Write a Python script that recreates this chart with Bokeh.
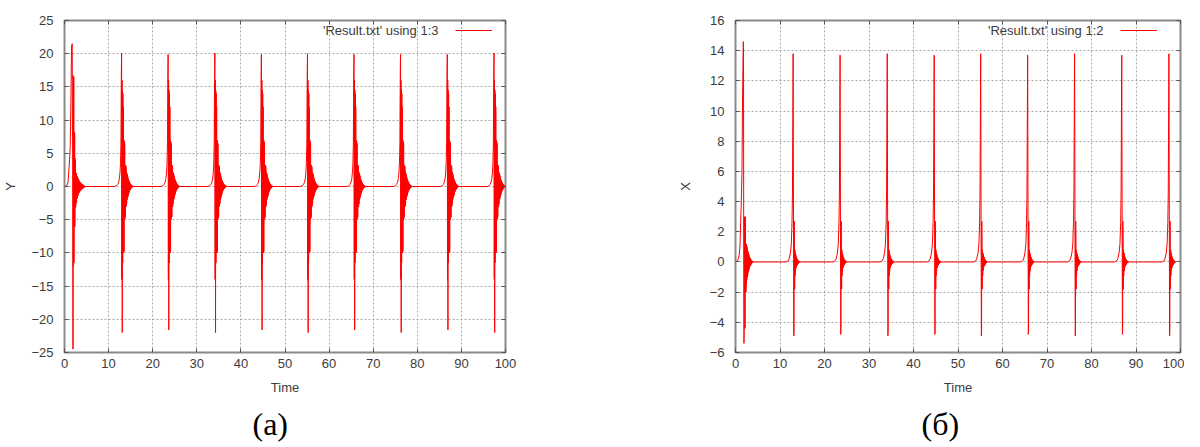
import numpy as np
from bokeh.plotting import figure
from bokeh.models import (ColumnDataSource, LinearAxis, Label, Legend, LegendItem,
                          Range1d, SingleIntervalTicker, Title, CustomJSTickFormatter)
from bokeh.layouts import row
from bokeh.embed import file_html
from bokeh.resources import INLINE

# ---------------- data ----------------
STEP = 0.05  # sampling step of the ringing part after each spike

# peak times of the spikes
SPIKE_T = [1.75, 12.95, 23.5, 34.1, 44.65, 55.1, 65.65, 76.2, 86.8, 97.4]

# ---- panel (a): Y (column 3) ----
Y_PEAK = [21.5, 20.1, 19.9, 20.1, 19.9, 20.0, 19.9, 19.9, 19.9, 20.1]
Y_MIN = [-24.5, -22.0, -21.6, -22.0, -21.6, -22.0, -21.6, -22.0, -21.6, -22.0]
Y_RISE_DT = [-1.6, -1.2, -0.9, -0.7, -0.5, -0.35, -0.25, -0.15, -0.1, -0.05]
Y_RISE = [0.0, 0.1, 0.3, 0.6, 1.2, 2.2, 3.5, 6.5, 12.5, 17.6]
Y_POST_HEAD = [-14.0, 16.0]
Y_POST_TAIL = [14.5, -11.5, 14.0, -10.0, 12.0, -10.0, 7.0, -9.8, 6.8, -5.0, 6.5, -4.8,
               3.2, -4.6, 3.2, -3.0, 3.0, -3.0, 2.2, -2.6, 2.0, -2.0, 1.8, -1.8, 1.5,
               -1.5, 1.2, -1.3, 1.0, -1.0, 0.8, -0.8, 0.7, -0.6, 0.5, -0.5, 0.4, -0.4,
               0.3, -0.3, 0.25, -0.2, 0.2, -0.15, 0.1, -0.1, 0.1, -0.05, 0.05, 0.0]
# first (start-up) spike of Y
Y_FIRST_T = [0.0, 0.5, 0.8, 1.0, 1.15, 1.3, 1.45, 1.6]
Y_FIRST_RISE = [0.0, 0.1, 0.6, 2.5, 4.0, 6.0, 12.7, 21.0]
Y_FIRST_POST = [8.5, 7.0, -24.0, -24.5, 16.7, -12.0, 16.5, -11.5, 8.2, -6.0, 8.0, -6.0,
                4.2, -3.2, 4.0, -3.0, 2.0, -2.5, 2.0, -2.2, 1.6, -1.8, 1.5, -1.6, 1.3,
                -1.4, 1.2, -1.2, 1.0, -1.0, 0.9, -0.9, 0.8, -0.8, 0.7, -0.7, 0.6, -0.6,
                0.5, -0.5, 0.45, -0.45, 0.4, -0.4, 0.35, -0.35, 0.3, -0.3, 0.25, -0.25,
                0.2, -0.2, 0.15, -0.15, 0.1, -0.1, 0.05, -0.05, 0.0]

# ---- panel (б): X (column 2) ----
X_PEAK = [14.6, 13.8, 13.7, 13.8, 13.7, 13.8, 13.7, 13.8, 13.7, 13.8]
X_MIN = [-5.4, -4.9, -4.8, -4.9, -4.8, -4.9, -4.8, -4.9, -4.8, -4.9]
X_RISE_DT = [-1.6, -1.2, -0.9, -0.6, -0.4, -0.25, -0.15, -0.08]
X_RISE = [0.0, 0.05, 0.2, 0.6, 1.2, 2.6, 4.5, 9.0]
X_POST_HEAD = [7.6, 0.8]
X_POST_TAIL = [-4.5, 2.7, 0.9, -1.8, 0.8, -0.9, 0.6, -0.6, 0.5, -0.4, 0.35, -0.3, 0.3,
               -0.25, 0.2, -0.2, 0.15, -0.15, 0.1, -0.1, 0.08, -0.06, 0.05, -0.04,
               0.03, -0.02, 0.0]
X_FIRST_T = [0.0, 0.5, 0.8, 1.0, 1.15, 1.3, 1.45, 1.6]
X_FIRST_RISE = [0.0, 0.1, 0.4, 1.0, 2.6, 4.0, 5.8, 11.3]
X_FIRST_POST = [14.2, 0.5, -5.4, -4.4, 3.0, -2.0, 2.9, -4.4, 3.0, -2.0, 1.2, -2.0, 1.2,
                -1.5, 1.1, -1.2, 1.0, -1.0, 0.8, -0.9, 0.7, -0.7, 0.6, -0.6, 0.5, -0.5,
                0.4, -0.4, 0.3, -0.3, 0.25, -0.25, 0.2, -0.2, 0.15, -0.15, 0.1, -0.1,
                0.08, -0.06, 0.05, -0.04, 0.02, 0.0]

X_TICKS_STEP = 10
Y_TICKS_STEP_A = 5
Y_TICKS_STEP_B = 2


def build(first_t, first_rise, first_post, peaks, mins, rise_dt, rise, head, tail):
    ts, ys = list(first_t), list(first_rise)
    tp = SPIKE_T[0]
    ts.append(tp); ys.append(peaks[0])
    for k, v in enumerate(first_post):
        ts.append(tp + (k + 1) * STEP); ys.append(v)
    for i in range(1, len(SPIKE_T)):
        tp = SPIKE_T[i]
        for dt, v in zip(rise_dt, rise):
            ts.append(tp + dt); ys.append(v)
        ts.append(tp); ys.append(peaks[i])
        post = list(head) + [mins[i]] + list(tail)
        for k, v in enumerate(post):
            ts.append(tp + (k + 1) * STEP); ys.append(v)
    return ts, ys


ta, ya = build(Y_FIRST_T, Y_FIRST_RISE, Y_FIRST_POST, Y_PEAK, Y_MIN,
               Y_RISE_DT, Y_RISE, Y_POST_HEAD, Y_POST_TAIL)
tb, yb = build(X_FIRST_T, X_FIRST_RISE, X_FIRST_POST, X_PEAK, X_MIN,
               X_RISE_DT, X_RISE, X_POST_HEAD, X_POST_TAIL)

# ---------------- styling helpers ----------------
FONT = "Liberation Sans"
TXT = "#3c3c3c"
FRAME_H = 332
HEIGHT = 447


def make_panel(t, y, yr, ystep, ylabel, legend_text, caption, caption_off,
               width, frame_w, border_left, border_right, ylabel_standoff):
    p = figure(width=width, height=HEIGHT, output_backend="svg", toolbar_location=None,
               x_range=Range1d(0, 100), y_range=Range1d(*yr),
               min_border_left=border_left, min_border_right=border_right,
               min_border_top=20, min_border_bottom=HEIGHT - 20 - FRAME_H,
               background_fill_color="white", border_fill_color="white",
               outline_line_color="#8a8a8a", outline_line_width=2)
    bottom = p.xaxis[0]
    left = p.yaxis[0]
    bottom.ticker = SingleIntervalTicker(interval=X_TICKS_STEP)
    left.ticker = SingleIntervalTicker(interval=ystep)
    # mirror axes (ticks on all sides, like gnuplot), without labels
    blank = CustomJSTickFormatter(code="return ''")
    top = LinearAxis(ticker=SingleIntervalTicker(interval=X_TICKS_STEP), formatter=blank)
    right = LinearAxis(ticker=SingleIntervalTicker(interval=ystep), formatter=blank)
    p.add_layout(top, "above")
    p.add_layout(right, "right")
    for ax in [bottom, left, top, right]:
        ax.axis_line_color = None
        ax.major_tick_in = 4
        ax.major_tick_out = 0
        ax.minor_tick_in = 0
        ax.minor_tick_out = 0
        ax.major_tick_line_color = "#555555"
        ax.minor_tick_line_color = None
        ax.major_label_text_font = FONT
        ax.major_label_text_font_size = "13px"
        ax.major_label_text_color = TXT
    for ax in [top, right]:
        ax.major_label_standoff = 0
        ax.major_label_text_font_size = "0px"
        ax.axis_label_standoff = 0
    bottom.major_label_standoff = 6
    left.major_label_standoff = 11
    bottom.axis_label = "Time"
    left.axis_label = ylabel
    for ax in [bottom, left]:
        ax.axis_label_text_font = FONT
        ax.axis_label_text_font_size = "13px"
        ax.axis_label_text_font_style = "normal"
        ax.axis_label_text_color = TXT
    bottom.axis_label_standoff = 9
    left.axis_label_standoff = ylabel_standoff

    p.xgrid.ticker = SingleIntervalTicker(interval=X_TICKS_STEP)
    p.ygrid.ticker = SingleIntervalTicker(interval=ystep)
    for g in [p.xgrid, p.ygrid]:
        g.grid_line_color = "#a8a8a8"
        g.grid_line_dash = "2 2"
        g.grid_line_width = 1

    src = ColumnDataSource(dict(t=t, y=y))
    r = p.line("t", "y", source=src, line_color="#ff0000", line_width=1)

    # legend: text then sample line (gnuplot style)
    p.add_layout(Label(x=frame_w - 70, y=FRAME_H - 10, x_units="screen", y_units="screen",
                       text=legend_text, text_align="right", text_baseline="middle",
                       text_font=FONT, text_font_size="13px", text_color=TXT))
    leg = Legend(items=[LegendItem(label=" ", renderers=[r])],
                 location=(frame_w - 53, FRAME_H - 15), glyph_width=37, glyph_height=10,
                 label_width=0, label_standoff=0, label_text_font_size="1px",
                 padding=0, margin=0, spacing=0, border_line_color=None,
                 background_fill_alpha=0)
    p.add_layout(leg)

    # caption below the panel
    p.add_layout(Title(text=caption, align="left", offset=caption_off,
                       text_font="Liberation Serif", text_font_size="32px",
                       text_font_style="normal", text_color="#000000", standoff=12),
                 "below")
    return p


pa = make_panel(ta, ya, (-25, 25), Y_TICKS_STEP_A, "Y", "'Result.txt' using 1:3", "(a)",
                188, 674, 444, 61, 169, 10)
pb = make_panel(tb, yb, (-6, 16), Y_TICKS_STEP_B, "X", "'Result.txt' using 1:2", "(б)",
                186, 510, 438, 61, 4, 14)

layout = row(pa, pb, spacing=0)
open("out.html", "w").write(file_html(layout, INLINE))
